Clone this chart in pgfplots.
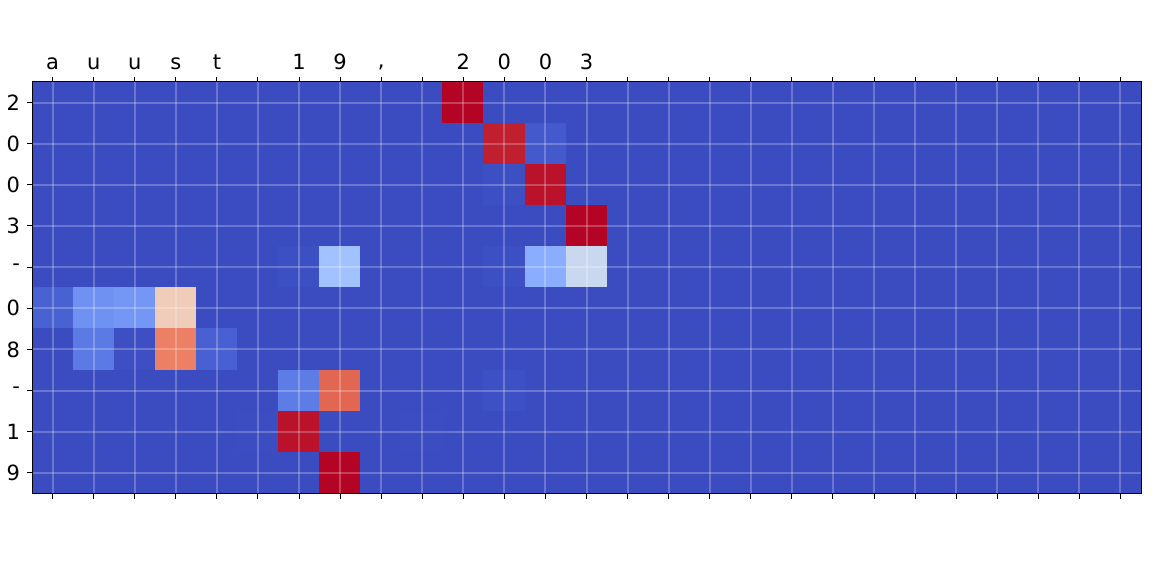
\documentclass[border=0pt]{standalone}
\usepackage{pgfplots}
\pgfplotsset{compat=1.18}
\usepackage{fontspec}
\setmainfont{DejaVu Sans}
\usetikzlibrary{calc}

% coolwarm, sampled
\pgfplotsset{
  colormap={coolwarm}{
    rgb255=(59,76,192) rgb255=(77,104,215) rgb255=(98,130,234) rgb255=(119,154,247)
    rgb255=(141,176,254) rgb255=(163,194,255) rgb255=(184,208,249) rgb255=(204,217,238)
    rgb255=(221,221,221) rgb255=(236,211,197) rgb255=(245,196,173) rgb255=(247,177,148)
    rgb255=(244,154,123) rgb255=(236,127,99) rgb255=(222,96,77) rgb255=(203,62,56)
    rgb255=(180,4,38)
  }
}

\begin{document}
\begin{tikzpicture}
\begin{axis}[
  name=hm,
  scale only axis, width=555pt, height=206pt,
  xmin=-0.5, xmax=26.5, ymin=-0.5, ymax=9.5,
  y dir=reverse,
  axis on top,
  colormap name=coolwarm,
  point meta min=0, point meta max=1,
  xtick={0,...,26}, ytick={0,...,9},
  xticklabels={a,u,u,s,t,{},1,9,{,},{},2,0,0,3,{},{},{},{},{},{},{},{},{},{},{},{},{}},
  yticklabels={2,0,0,3,-,0,8,-,1,9},
  xtick pos=both, xticklabel pos=upper,
  ytick pos=left,
  tick align=outside,
  major tick length=2.5pt,
  tick style={black, line width=0.5pt},
  grid=major,
  grid style={white, opacity=0.24, line width=1pt},
  axis line style={black, line width=0.5pt},
  tick label style={font=\fontsize{10.5}{12}\selectfont},
  /pgf/number format/assume math mode=true,
]
\addplot[matrix plot*, mesh/cols=27, point meta=explicit] table[row sep=\\, meta=c] {
x y c\\
0 0 0\\1 0 0\\2 0 0\\3 0 0\\4 0 0\\5 0 0\\6 0 0\\7 0 0\\8 0 0\\9 0 0\\10 0 1\\11 0 0\\12 0 0\\13 0 0\\14 0 0\\15 0 0\\16 0 0\\17 0 0\\18 0 0\\19 0 0\\20 0 0\\21 0 0\\22 0 0\\23 0 0\\24 0 0\\25 0 0\\26 0 0\\
0 1 0\\1 1 0\\2 1 0\\3 1 0\\4 1 0\\5 1 0\\6 1 0\\7 1 0\\8 1 0\\9 1 0\\10 1 0\\11 1 0.97\\12 1 0.03\\13 1 0\\14 1 0\\15 1 0\\16 1 0\\17 1 0\\18 1 0\\19 1 0\\20 1 0\\21 1 0\\22 1 0\\23 1 0\\24 1 0\\25 1 0\\26 1 0\\
0 2 0\\1 2 0\\2 2 0\\3 2 0\\4 2 0\\5 2 0\\6 2 0\\7 2 0\\8 2 0\\9 2 0\\10 2 0\\11 2 0.008\\12 2 0.985\\13 2 0\\14 2 0\\15 2 0\\16 2 0\\17 2 0\\18 2 0\\19 2 0\\20 2 0\\21 2 0\\22 2 0\\23 2 0\\24 2 0\\25 2 0\\26 2 0\\
0 3 0\\1 3 0\\2 3 0\\3 3 0\\4 3 0\\5 3 0\\6 3 0\\7 3 0\\8 3 0\\9 3 0\\10 3 0\\11 3 0\\12 3 0\\13 3 1\\14 3 0\\15 3 0\\16 3 0\\17 3 0\\18 3 0\\19 3 0\\20 3 0\\21 3 0\\22 3 0\\23 3 0\\24 3 0\\25 3 0\\26 3 0\\
0 4 0\\1 4 0\\2 4 0\\3 4 0\\4 4 0\\5 4 0\\6 4 0.008\\7 4 0.31\\8 4 0\\9 4 0\\10 4 0\\11 4 0.008\\12 4 0.24\\13 4 0.43\\14 4 0\\15 4 0\\16 4 0\\17 4 0\\18 4 0\\19 4 0\\20 4 0\\21 4 0\\22 4 0\\23 4 0\\24 4 0\\25 4 0\\26 4 0\\
0 5 0.05\\1 5 0.165\\2 5 0.18\\3 5 0.59\\4 5 0\\5 5 0\\6 5 0\\7 5 0\\8 5 0\\9 5 0\\10 5 0\\11 5 0\\12 5 0\\13 5 0\\14 5 0\\15 5 0\\16 5 0\\17 5 0\\18 5 0\\19 5 0\\20 5 0\\21 5 0\\22 5 0\\23 5 0\\24 5 0\\25 5 0\\26 5 0\\
0 6 0\\1 6 0.105\\2 6 0.006\\3 6 0.81\\4 6 0.045\\5 6 0\\6 6 0\\7 6 0\\8 6 0\\9 6 0\\10 6 0\\11 6 0\\12 6 0\\13 6 0\\14 6 0\\15 6 0\\16 6 0\\17 6 0\\18 6 0\\19 6 0\\20 6 0\\21 6 0\\22 6 0\\23 6 0\\24 6 0\\25 6 0\\26 6 0\\
0 7 0\\1 7 0\\2 7 0\\3 7 0\\4 7 0\\5 7 0\\6 7 0.11\\7 7 0.86\\8 7 0\\9 7 0\\10 7 0\\11 7 0.012\\12 7 0\\13 7 0\\14 7 0\\15 7 0\\16 7 0\\17 7 0\\18 7 0\\19 7 0\\20 7 0\\21 7 0\\22 7 0\\23 7 0\\24 7 0\\25 7 0\\26 7 0\\
0 8 0\\1 8 0\\2 8 0\\3 8 0\\4 8 0\\5 8 0.002\\6 8 0.985\\7 8 0\\8 8 0\\9 8 0.002\\10 8 0\\11 8 0\\12 8 0\\13 8 0\\14 8 0\\15 8 0\\16 8 0\\17 8 0\\18 8 0\\19 8 0\\20 8 0\\21 8 0\\22 8 0\\23 8 0\\24 8 0\\25 8 0\\26 8 0\\
0 9 0\\1 9 0\\2 9 0\\3 9 0\\4 9 0\\5 9 0\\6 9 0\\7 9 1\\8 9 0\\9 9 0\\10 9 0\\11 9 0\\12 9 0\\13 9 0\\14 9 0\\15 9 0\\16 9 0\\17 9 0\\18 9 0\\19 9 0\\20 9 0\\21 9 0\\22 9 0\\23 9 0\\24 9 0\\25 9 0\\26 9 0\\
};
\end{axis}
\path ($(hm.south west)+(-15.5pt,-41pt)$) rectangle ($(hm.north east)+(5.5pt,41pt)$);
\end{tikzpicture}
\end{document}
